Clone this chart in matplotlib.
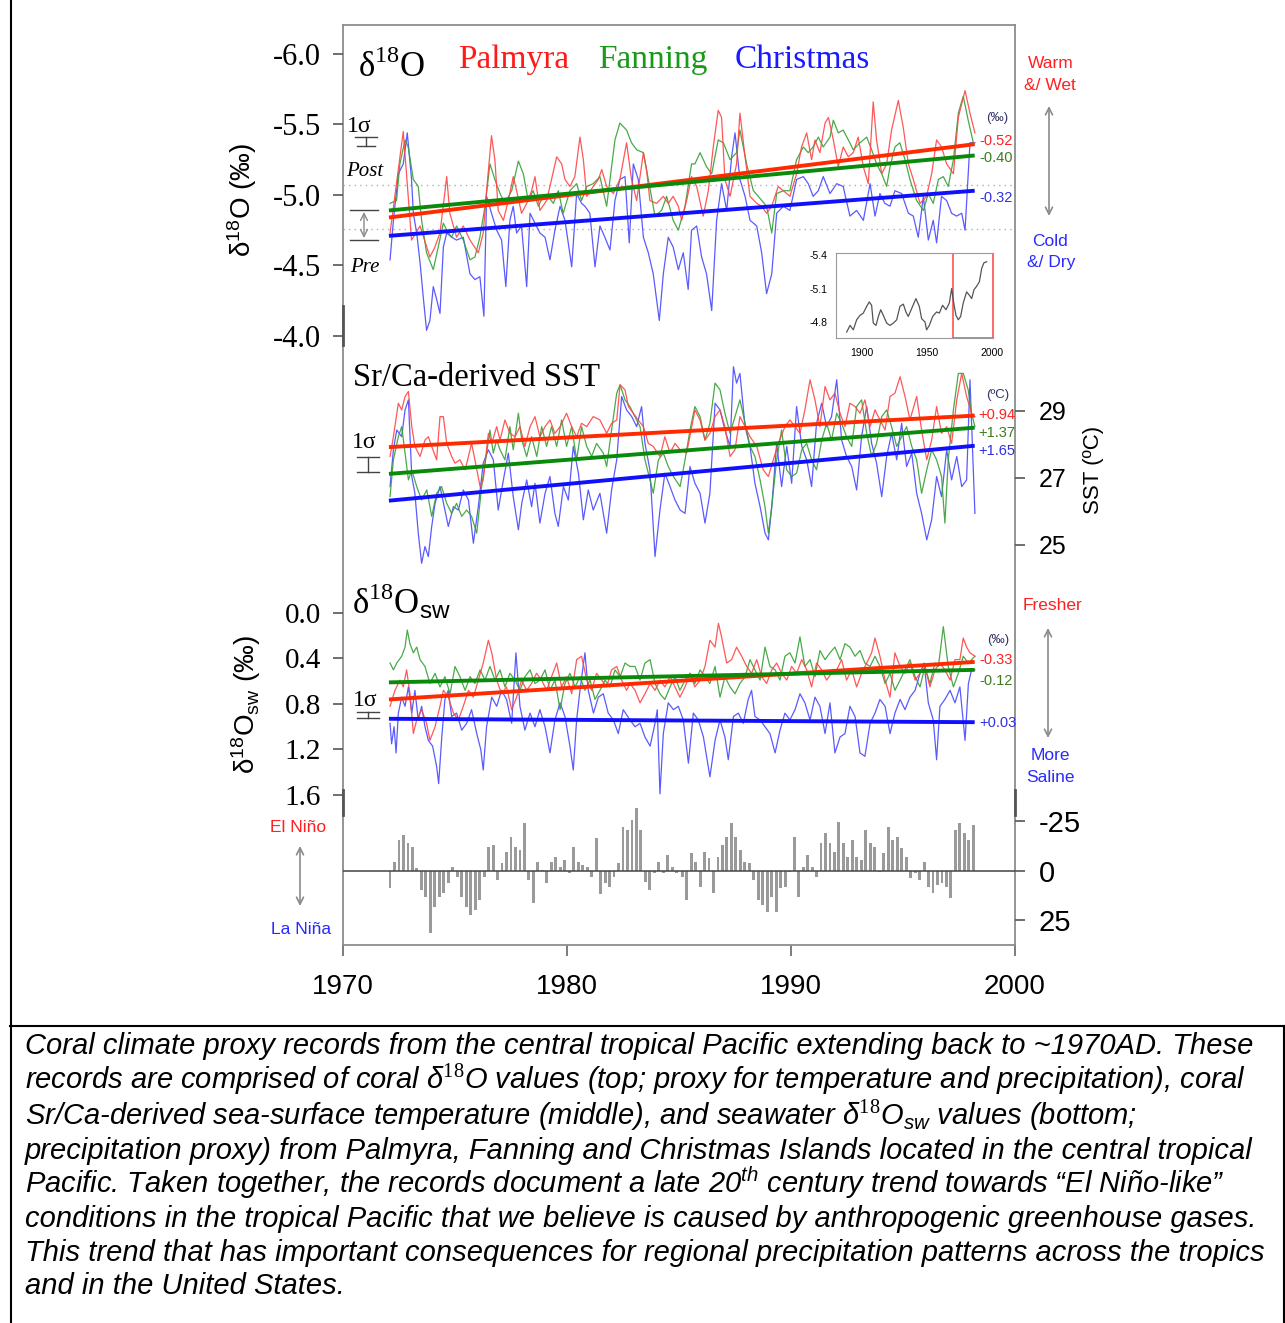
import numpy as np
import matplotlib
matplotlib.use("Agg")
import matplotlib.pyplot as plt
from matplotlib.lines import Line2D
from matplotlib.patches import FancyArrowPatch

plt.rcParams["mathtext.fontset"] = "custom"
plt.rcParams["mathtext.rm"] = "Liberation Serif"
plt.rcParams["mathtext.sf"] = "Liberation Sans"
plt.rcParams["mathtext.it"] = "Liberation Sans:italic"
plt.rcParams["axes.unicode_minus"] = False
SERIF = "Liberation Serif"
SANS = "Liberation Sans"

# ---------------- data (year, value) ----------------
# coral d18O (permil)
pal_o = [(1972.10, -4.73), (1972.69, -5.45), (1973.06, -4.68), (1973.44, -4.78), (1973.88, -4.56), (1974.10, -4.63),
         (1974.33, -4.73), (1974.63, -5.13), (1974.77, -4.87), (1975.07, -4.70), (1975.37, -4.78), (1975.67, -4.68),
         (1976.04, -4.59), (1976.26, -4.73), (1976.41, -5.03), (1976.63, -5.42), (1976.78, -5.25), (1976.93, -4.89),
         (1977.16, -4.82), (1977.38, -4.96), (1977.60, -5.13), (1977.75, -5.03), (1977.97, -4.87), (1978.20, -4.94),
         (1978.42, -5.03), (1978.57, -5.13), (1978.79, -4.89), (1979.09, -4.96), (1979.31, -5.11), (1979.54, -5.27),
         (1979.76, -5.22), (1979.91, -5.11), (1980.13, -5.06), (1980.35, -5.13), (1980.58, -5.41), (1980.73, -5.25),
         (1980.88, -4.99), (1981.17, -5.06), (1981.40, -5.11), (1981.55, -5.18), (1981.77, -5.06), (1982.07, -5.01),
         (1982.36, -5.11), (1982.66, -5.37), (1982.88, -5.11), (1983.11, -4.96), (1983.41, -5.30), (1983.55, -5.18),
         (1983.70, -4.96), (1984.00, -4.94), (1984.30, -4.99), (1984.52, -4.94), (1984.74, -4.99), (1984.97, -4.92),
         (1985.12, -4.82), (1985.34, -4.96), (1985.56, -5.13), (1985.79, -5.06), (1986.08, -4.85), (1986.31, -5.03),
         (1986.53, -5.34), (1986.75, -5.60), (1986.90, -5.55), (1987.05, -5.11), (1987.28, -4.99), (1987.57, -5.22),
         (1987.72, -5.58), (1987.95, -5.27), (1988.17, -4.99), (1988.47, -4.94), (1988.69, -4.92), (1988.91, -4.87),
         (1989.14, -4.92), (1989.43, -5.06), (1989.66, -5.03), (1989.95, -4.99), (1990.25, -5.15), (1990.47, -5.34),
         (1990.70, -5.44), (1990.92, -5.25), (1991.07, -5.39), (1991.29, -5.30), (1991.52, -5.51), (1991.67, -5.55),
         (1991.89, -5.39), (1992.11, -5.20), (1992.33, -5.34), (1992.56, -5.27), (1992.78, -5.30), (1993.00, -5.41),
         (1993.23, -5.20), (1993.45, -5.08), (1993.67, -5.66), (1993.82, -5.39), (1994.05, -5.15), (1994.27, -5.22),
         (1994.49, -5.46), (1994.79, -5.67), (1995.01, -5.48), (1995.24, -5.22), (1995.46, -5.11), (1995.76, -4.94),
         (1996.05, -4.99), (1996.28, -5.15), (1996.50, -5.39), (1996.72, -5.34), (1996.95, -5.22), (1997.25, -5.15),
         (1997.47, -5.55), (1997.77, -5.74), (1997.99, -5.58), (1998.21, -5.44)]
fan_o = [(1972.10, -4.94), (1972.39, -4.96), (1972.54, -5.22), (1972.77, -5.39), (1972.91, -5.34), (1973.14, -5.11),
         (1973.36, -5.06), (1973.51, -4.82), (1973.73, -4.59), (1974.03, -4.47), (1974.25, -4.63), (1974.48, -4.80),
         (1974.63, -4.75), (1974.85, -4.70), (1975.07, -4.78), (1975.37, -4.68), (1975.67, -4.54), (1975.89, -4.56),
         (1976.11, -4.70), (1976.34, -4.92), (1976.56, -5.22), (1976.78, -5.11), (1977.01, -5.01), (1977.23, -4.94),
         (1977.53, -5.03), (1977.83, -5.24), (1978.05, -5.15), (1978.27, -4.96), (1978.49, -5.03), (1978.72, -4.92),
         (1978.94, -4.99), (1979.16, -4.99), (1979.39, -4.94), (1979.61, -5.03), (1979.83, -4.87), (1980.13, -5.03),
         (1980.43, -5.08), (1980.65, -4.96), (1980.88, -5.06), (1981.17, -5.08), (1981.47, -5.13), (1981.77, -4.92),
         (1981.92, -5.11), (1982.14, -5.39), (1982.36, -5.51), (1982.66, -5.46), (1982.88, -5.37), (1983.11, -5.32),
         (1983.41, -5.30), (1983.63, -5.11), (1983.93, -4.85), (1984.22, -4.89), (1984.45, -4.99), (1984.74, -4.82),
         (1984.97, -4.75), (1985.27, -4.92), (1985.56, -5.22), (1985.71, -5.22), (1985.94, -5.30), (1986.23, -5.20),
         (1986.46, -5.15), (1986.75, -5.39), (1986.98, -5.37), (1987.28, -5.25), (1987.57, -5.30), (1987.72, -5.46),
         (1988.02, -5.22), (1988.32, -5.03), (1988.54, -4.99), (1988.91, -4.92), (1989.14, -4.73), (1989.36, -5.01),
         (1989.66, -5.03), (1989.95, -5.03), (1990.25, -5.25), (1990.55, -5.34), (1990.77, -5.30), (1990.99, -5.34),
         (1991.22, -5.41), (1991.44, -5.34), (1991.74, -5.41), (1991.89, -5.53), (1992.11, -5.44), (1992.33, -5.46),
         (1992.56, -5.39), (1992.78, -5.32), (1993.08, -5.37), (1993.38, -5.41), (1993.60, -5.32), (1993.82, -5.22),
         (1994.05, -5.15), (1994.27, -5.06), (1994.42, -5.20), (1994.64, -5.34), (1994.86, -5.37), (1995.09, -5.25),
         (1995.31, -5.11), (1995.61, -4.96), (1995.91, -4.89), (1996.13, -5.01), (1996.35, -4.94), (1996.58, -5.11),
         (1996.80, -5.13), (1997.02, -5.06), (1997.25, -5.25), (1997.47, -5.58), (1997.69, -5.70), (1997.91, -5.53),
         (1998.14, -5.37)]
chr_o = [(1972.10, -4.54), (1972.25, -4.82), (1972.47, -5.15), (1972.69, -5.22), (1972.87, -5.44), (1973.06, -5.11),
         (1973.14, -4.87), (1973.29, -4.73), (1973.44, -4.52), (1973.58, -4.28), (1973.73, -4.04), (1973.88, -4.11),
         (1974.03, -4.35), (1974.18, -4.26), (1974.33, -4.16), (1974.48, -4.63), (1974.63, -4.73), (1974.85, -4.70),
         (1975.07, -4.68), (1975.37, -4.70), (1975.67, -4.44), (1975.89, -4.40), (1976.11, -4.42), (1976.29, -4.14),
         (1976.41, -4.99), (1976.63, -4.87), (1976.86, -4.75), (1977.08, -4.68), (1977.27, -4.35), (1977.45, -4.82),
         (1977.60, -4.92), (1977.75, -4.73), (1977.97, -4.78), (1978.20, -4.35), (1978.35, -4.87), (1978.57, -4.80),
         (1978.79, -4.73), (1979.02, -4.70), (1979.24, -4.54), (1979.46, -4.75), (1979.69, -4.92), (1979.91, -4.82),
         (1980.21, -4.49), (1980.43, -5.01), (1980.65, -4.94), (1980.80, -4.92), (1981.02, -4.87), (1981.25, -4.49),
         (1981.47, -4.78), (1981.69, -4.70), (1981.92, -4.61), (1982.14, -4.96), (1982.36, -5.11), (1982.59, -5.13),
         (1982.78, -4.66), (1982.96, -5.22), (1983.18, -5.11), (1983.41, -4.70), (1983.63, -4.59), (1983.85, -4.44),
         (1984.12, -4.11), (1984.30, -4.44), (1984.52, -4.70), (1984.74, -4.63), (1984.97, -4.47), (1985.19, -4.59),
         (1985.41, -4.33), (1985.56, -4.75), (1985.79, -4.78), (1986.01, -4.56), (1986.23, -4.44), (1986.46, -4.18),
         (1986.68, -4.82), (1986.90, -5.08), (1987.13, -4.89), (1987.35, -5.27), (1987.50, -5.44), (1987.72, -5.11),
         (1987.95, -4.99), (1988.17, -4.82), (1988.47, -4.78), (1988.69, -4.59), (1988.91, -4.30), (1989.14, -4.44),
         (1989.36, -4.87), (1989.66, -4.92), (1989.95, -4.89), (1990.25, -5.11), (1990.55, -5.13), (1990.77, -5.08),
         (1990.99, -4.99), (1991.22, -5.03), (1991.44, -5.13), (1991.74, -5.01), (1992.04, -5.08), (1992.33, -5.06),
         (1992.63, -4.85), (1992.93, -4.89), (1993.23, -4.82), (1993.53, -5.08), (1993.75, -4.85), (1993.97, -5.01),
         (1994.19, -4.94), (1994.42, -4.92), (1994.64, -5.03), (1994.94, -5.01), (1995.24, -4.87), (1995.46, -4.85),
         (1995.68, -4.70), (1995.91, -4.99), (1996.13, -4.68), (1996.35, -4.82), (1996.50, -4.66), (1996.72, -4.99),
         (1996.95, -4.96), (1997.17, -4.87), (1997.39, -4.85), (1997.62, -4.87), (1997.77, -4.75), (1997.99, -5.37),
         (1998.21, -5.37)]

# Sr/Ca-derived SST (deg C)
pal_sst = [(1972.10, 27.64), (1972.25, 28.23), (1972.47, 29.23), (1972.62, 29.03), (1972.77, 29.43), (1972.92, 29.58),
           (1973.07, 28.53), (1973.21, 27.94), (1973.44, 27.64), (1973.66, 28.13), (1973.81, 28.23), (1973.96, 27.94),
           (1974.18, 27.54), (1974.33, 28.83), (1974.48, 28.83), (1974.63, 28.03), (1974.85, 27.64), (1975.00, 27.44),
           (1975.22, 27.54), (1975.45, 27.24), (1975.60, 27.64), (1975.74, 28.03), (1975.89, 27.54), (1976.12, 26.74),
           (1976.26, 26.94), (1976.49, 28.33), (1976.64, 28.03), (1976.86, 28.53), (1977.01, 28.13), (1977.23, 28.73),
           (1977.45, 28.33), (1977.68, 28.23), (1977.90, 28.53), (1978.12, 27.94), (1978.35, 28.53), (1978.57, 28.83),
           (1978.79, 28.23), (1979.02, 28.53), (1979.24, 28.73), (1979.46, 28.33), (1979.69, 28.53), (1979.98, 28.93),
           (1980.21, 28.53), (1980.43, 28.23), (1980.65, 28.63), (1980.88, 28.53), (1981.17, 28.83), (1981.47, 28.73),
           (1981.77, 28.33), (1981.99, 28.63), (1982.22, 28.73), (1982.37, 29.78), (1982.59, 29.63), (1982.74, 29.13),
           (1982.96, 28.93), (1983.18, 28.73), (1983.41, 28.53), (1983.63, 28.03), (1983.85, 27.94), (1984.15, 27.64),
           (1984.37, 28.23), (1984.60, 27.74), (1984.82, 28.03), (1985.05, 27.84), (1985.34, 27.74), (1985.57, 28.53),
           (1985.71, 29.03), (1985.94, 28.73), (1986.16, 28.13), (1986.38, 28.33), (1986.61, 28.83), (1986.83, 29.03),
           (1987.05, 28.53), (1987.28, 27.64), (1987.50, 27.84), (1987.72, 28.83), (1987.95, 28.53), (1988.17, 28.23),
           (1988.47, 27.94), (1988.76, 27.24), (1988.99, 27.04), (1989.21, 27.54), (1989.43, 28.03), (1989.73, 28.53),
           (1989.95, 28.73), (1990.18, 28.53), (1990.40, 28.33), (1990.62, 29.03), (1990.85, 29.93), (1991.07, 29.33),
           (1991.29, 28.53), (1991.52, 29.73), (1991.74, 29.33), (1991.96, 29.53), (1992.19, 28.93), (1992.41, 28.53),
           (1992.63, 29.23), (1992.86, 29.13), (1993.08, 28.93), (1993.30, 29.33), (1993.53, 28.53), (1993.75, 29.03),
           (1993.97, 28.73), (1994.20, 28.43), (1994.42, 29.43), (1994.64, 29.53), (1994.87, 30.02), (1995.09, 29.43),
           (1995.31, 28.73), (1995.61, 29.43), (1995.83, 28.43), (1996.06, 27.54), (1996.28, 28.13), (1996.50, 29.13),
           (1996.72, 28.33), (1996.95, 28.53), (1997.17, 28.03), (1997.40, 29.33), (1997.62, 30.12), (1997.84, 29.43),
           (1998.06, 28.93), (1998.21, 28.83)]
fan_sst = [(1972.10, 26.44), (1972.25, 27.54), (1972.47, 28.23), (1972.62, 28.53), (1972.77, 27.74), (1972.92, 26.94),
           (1973.07, 27.24), (1973.29, 26.74), (1973.51, 26.34), (1973.74, 26.64), (1973.96, 25.85), (1974.18, 26.54),
           (1974.40, 26.74), (1974.63, 26.24), (1974.85, 25.94), (1975.07, 26.24), (1975.30, 25.85), (1975.52, 26.04),
           (1975.74, 25.85), (1975.97, 25.35), (1976.19, 26.74), (1976.41, 27.74), (1976.56, 28.43), (1976.71, 27.74),
           (1976.86, 28.13), (1977.01, 27.84), (1977.23, 27.54), (1977.45, 28.53), (1977.60, 27.84), (1977.83, 28.93),
           (1977.98, 28.13), (1978.20, 27.64), (1978.42, 28.23), (1978.65, 27.64), (1978.87, 28.53), (1979.09, 27.94),
           (1979.31, 28.53), (1979.54, 27.94), (1979.76, 28.73), (1979.98, 27.94), (1980.21, 28.53), (1980.43, 27.54),
           (1980.65, 28.53), (1980.88, 27.94), (1981.10, 27.64), (1981.32, 28.03), (1981.62, 27.74), (1981.77, 27.34),
           (1981.99, 28.43), (1982.22, 29.53), (1982.37, 29.78), (1982.59, 29.33), (1982.81, 29.13), (1983.03, 28.83),
           (1983.26, 28.53), (1983.48, 27.54), (1983.63, 27.14), (1983.85, 26.54), (1984.08, 27.54), (1984.30, 27.74),
           (1984.52, 27.34), (1984.75, 27.04), (1985.05, 26.74), (1985.27, 27.54), (1985.49, 28.43), (1985.71, 29.13),
           (1985.94, 28.83), (1986.16, 28.13), (1986.38, 28.63), (1986.61, 29.83), (1986.83, 29.63), (1987.05, 28.93),
           (1987.28, 28.33), (1987.50, 28.83), (1987.72, 29.33), (1987.95, 28.63), (1988.17, 27.94), (1988.39, 27.64),
           (1988.62, 26.94), (1988.84, 26.14), (1988.99, 25.35), (1989.14, 26.14), (1989.36, 27.54), (1989.58, 28.43),
           (1989.81, 27.24), (1990.03, 27.04), (1990.25, 27.14), (1990.48, 27.84), (1990.70, 28.03), (1990.92, 27.54),
           (1991.14, 27.24), (1991.37, 28.13), (1991.59, 28.63), (1991.81, 28.13), (1992.04, 28.93), (1992.26, 28.63),
           (1992.48, 28.23), (1992.71, 27.94), (1992.93, 29.13), (1993.15, 29.33), (1993.38, 28.33), (1993.60, 27.64),
           (1993.82, 28.03), (1994.05, 28.83), (1994.27, 29.03), (1994.49, 28.53), (1994.72, 27.94), (1994.94, 28.23),
           (1995.16, 28.53), (1995.39, 27.94), (1995.61, 27.54), (1995.83, 26.54), (1996.06, 27.24), (1996.28, 27.84),
           (1996.50, 27.54), (1996.72, 27.04), (1996.87, 25.65), (1997.02, 27.54), (1997.25, 29.03), (1997.47, 30.12),
           (1997.69, 30.12), (1997.91, 29.63), (1998.06, 28.93), (1998.21, 28.53)]
chr_sst = [(1972.10, 26.74), (1972.25, 27.84), (1972.40, 28.43), (1972.62, 28.23), (1972.77, 29.03), (1972.92, 29.33),
           (1973.07, 27.04), (1973.21, 26.54), (1973.36, 25.35), (1973.51, 24.45), (1973.66, 24.95), (1973.81, 24.65),
           (1973.96, 25.55), (1974.11, 26.24), (1974.33, 26.74), (1974.55, 26.04), (1974.70, 25.55), (1974.93, 26.14),
           (1975.15, 26.04), (1975.37, 26.64), (1975.60, 26.34), (1975.82, 25.05), (1976.04, 26.14), (1976.26, 27.44),
           (1976.49, 27.84), (1976.71, 27.54), (1976.93, 26.04), (1977.16, 26.94), (1977.38, 27.74), (1977.60, 26.44),
           (1977.83, 25.45), (1977.98, 26.24), (1978.20, 26.94), (1978.42, 26.14), (1978.57, 26.84), (1978.79, 25.65),
           (1979.02, 26.54), (1979.24, 27.04), (1979.46, 25.94), (1979.61, 25.55), (1979.84, 26.74), (1980.06, 26.34),
           (1980.28, 27.94), (1980.51, 27.14), (1980.73, 25.75), (1980.95, 26.64), (1981.17, 26.04), (1981.47, 26.54),
           (1981.77, 25.35), (1981.99, 26.64), (1982.22, 27.54), (1982.44, 29.43), (1982.66, 29.03), (1982.89, 28.83),
           (1983.11, 28.53), (1983.33, 29.13), (1983.48, 28.03), (1983.70, 27.24), (1983.93, 24.65), (1984.15, 26.04),
           (1984.37, 27.14), (1984.60, 26.74), (1984.82, 26.34), (1985.05, 26.04), (1985.27, 25.94), (1985.49, 27.34),
           (1985.71, 26.84), (1985.94, 26.54), (1986.16, 25.65), (1986.38, 26.54), (1986.61, 29.23), (1986.83, 29.03),
           (1987.05, 28.43), (1987.28, 27.94), (1987.43, 30.32), (1987.57, 29.83), (1987.72, 30.12), (1987.95, 28.53),
           (1988.17, 27.94), (1988.39, 26.84), (1988.62, 26.14), (1988.84, 25.35), (1988.99, 25.15), (1989.14, 26.14),
           (1989.36, 28.03), (1989.58, 26.74), (1989.81, 27.94), (1990.03, 26.84), (1990.25, 29.13), (1990.48, 27.94),
           (1990.70, 27.54), (1990.92, 26.74), (1991.14, 28.63), (1991.37, 29.23), (1991.59, 28.53), (1991.81, 28.83),
           (1992.04, 29.93), (1992.26, 28.13), (1992.48, 27.64), (1992.71, 27.34), (1992.93, 26.64), (1993.15, 28.23),
           (1993.38, 29.13), (1993.60, 28.03), (1993.82, 27.44), (1994.05, 26.44), (1994.27, 27.64), (1994.49, 28.33),
           (1994.72, 27.54), (1994.94, 28.63), (1995.16, 27.34), (1995.39, 27.74), (1995.61, 26.54), (1995.83, 25.94),
           (1996.06, 25.15), (1996.28, 25.75), (1996.50, 27.04), (1996.72, 26.44), (1996.95, 27.84), (1997.17, 26.94),
           (1997.40, 27.64), (1997.62, 26.74), (1997.84, 26.94), (1997.99, 29.93), (1998.21, 25.94)]

# seawater d18O (permil)
pal_sw = [(1972.10, 0.82), (1972.32, 0.68), (1972.54, 0.59), (1972.69, 0.65), (1972.84, 0.50), (1972.99, 0.71),
          (1973.14, 1.06), (1973.29, 0.94), (1973.51, 0.85), (1973.73, 0.97), (1973.88, 1.12), (1974.11, 1.00),
          (1974.33, 0.82), (1974.48, 0.68), (1974.70, 0.74), (1974.93, 0.88), (1975.15, 0.94), (1975.37, 0.82),
          (1975.60, 0.68), (1975.82, 0.74), (1976.04, 0.59), (1976.26, 0.44), (1976.49, 0.24), (1976.64, 0.35),
          (1976.86, 0.59), (1977.08, 0.71), (1977.30, 0.65), (1977.53, 0.85), (1977.75, 0.74), (1977.97, 0.59),
          (1978.20, 0.68), (1978.42, 0.62), (1978.64, 0.53), (1978.87, 0.59), (1979.09, 0.68), (1979.31, 0.56),
          (1979.54, 0.44), (1979.76, 0.65), (1979.98, 0.56), (1980.21, 0.71), (1980.43, 0.41), (1980.65, 0.38),
          (1980.88, 0.59), (1981.10, 0.68), (1981.32, 0.53), (1981.55, 0.59), (1981.77, 0.65), (1981.99, 0.50),
          (1982.22, 0.47), (1982.44, 0.59), (1982.66, 0.68), (1982.81, 0.62), (1983.04, 0.68), (1983.26, 0.79),
          (1983.48, 0.71), (1983.71, 0.62), (1983.93, 0.68), (1984.15, 0.59), (1984.37, 0.65), (1984.60, 0.56),
          (1984.82, 0.65), (1985.04, 0.74), (1985.27, 0.65), (1985.49, 0.53), (1985.71, 0.65), (1985.94, 0.59),
          (1986.16, 0.47), (1986.38, 0.24), (1986.61, 0.30), (1986.76, 0.09), (1986.90, 0.21), (1987.13, 0.44),
          (1987.35, 0.41), (1987.57, 0.30), (1987.80, 0.38), (1988.02, 0.47), (1988.24, 0.53), (1988.47, 0.41),
          (1988.69, 0.56), (1988.91, 0.62), (1989.14, 0.50), (1989.36, 0.44), (1989.58, 0.53), (1989.81, 0.59),
          (1990.03, 0.47), (1990.25, 0.53), (1990.48, 0.41), (1990.70, 0.50), (1990.92, 0.65), (1991.14, 0.44),
          (1991.37, 0.50), (1991.59, 0.59), (1991.81, 0.53), (1992.04, 0.50), (1992.26, 0.41), (1992.48, 0.59),
          (1992.71, 0.50), (1992.93, 0.65), (1993.15, 0.53), (1993.38, 0.44), (1993.60, 0.35), (1993.75, 0.22),
          (1993.97, 0.38), (1994.20, 0.59), (1994.42, 0.74), (1994.64, 0.35), (1994.87, 0.47), (1995.09, 0.53),
          (1995.31, 0.44), (1995.54, 0.59), (1995.76, 0.53), (1995.98, 0.47), (1996.20, 0.65), (1996.43, 0.50),
          (1996.65, 0.44), (1996.87, 0.50), (1997.10, 0.59), (1997.32, 0.41), (1997.54, 0.41), (1997.69, 0.22),
          (1997.84, 0.30), (1997.99, 0.35), (1998.21, 0.38)]
fan_sw = [(1972.10, 0.44), (1972.25, 0.50), (1972.40, 0.44), (1972.62, 0.38), (1972.77, 0.30), (1972.87, 0.15),
          (1972.99, 0.27), (1973.14, 0.35), (1973.29, 0.30), (1973.44, 0.41), (1973.66, 0.47), (1973.88, 0.62),
          (1974.11, 0.53), (1974.33, 0.65), (1974.55, 0.56), (1974.78, 0.71), (1975.00, 0.47), (1975.22, 0.56),
          (1975.45, 0.68), (1975.67, 0.56), (1975.89, 0.62), (1976.12, 0.50), (1976.34, 0.59), (1976.56, 0.47),
          (1976.79, 0.59), (1977.01, 0.50), (1977.23, 0.65), (1977.45, 0.53), (1977.68, 0.59), (1977.90, 0.68),
          (1978.12, 0.56), (1978.35, 0.50), (1978.57, 0.62), (1978.79, 0.59), (1979.02, 0.50), (1979.24, 0.68),
          (1979.46, 0.59), (1979.69, 0.85), (1979.91, 0.62), (1980.13, 0.53), (1980.36, 0.65), (1980.58, 0.56),
          (1980.80, 0.68), (1981.03, 0.59), (1981.25, 0.76), (1981.47, 0.68), (1981.70, 0.59), (1981.92, 0.65),
          (1982.14, 0.50), (1982.37, 0.56), (1982.59, 0.44), (1982.81, 0.47), (1983.04, 0.47), (1983.26, 0.59),
          (1983.48, 0.44), (1983.71, 0.41), (1983.93, 0.62), (1984.15, 0.71), (1984.37, 0.76), (1984.60, 0.65),
          (1984.82, 0.56), (1985.04, 0.68), (1985.27, 0.59), (1985.49, 0.53), (1985.71, 0.62), (1985.94, 0.50),
          (1986.16, 0.56), (1986.38, 0.62), (1986.61, 0.47), (1986.83, 0.74), (1987.05, 0.56), (1987.28, 0.65),
          (1987.50, 0.71), (1987.72, 0.62), (1987.95, 0.56), (1988.17, 0.41), (1988.39, 0.50), (1988.62, 0.59),
          (1988.84, 0.30), (1989.06, 0.47), (1989.29, 0.50), (1989.51, 0.59), (1989.73, 0.38), (1989.95, 0.35),
          (1990.18, 0.44), (1990.40, 0.21), (1990.62, 0.47), (1990.85, 0.41), (1991.07, 0.56), (1991.29, 0.33),
          (1991.52, 0.41), (1991.74, 0.35), (1991.96, 0.30), (1992.19, 0.41), (1992.41, 0.27), (1992.63, 0.30),
          (1992.86, 0.38), (1993.08, 0.33), (1993.30, 0.44), (1993.53, 0.47), (1993.75, 0.38), (1993.97, 0.47),
          (1994.20, 0.62), (1994.42, 0.53), (1994.64, 0.68), (1994.87, 0.59), (1995.09, 0.50), (1995.31, 0.41),
          (1995.54, 0.56), (1995.76, 0.65), (1995.98, 0.47), (1996.20, 0.62), (1996.43, 0.44), (1996.58, 0.47),
          (1996.80, 0.12), (1997.02, 0.47), (1997.25, 0.65), (1997.47, 0.53), (1997.69, 0.38), (1997.92, 0.44),
          (1998.21, 0.38)]
chr_sw = [(1972.10, 0.97), (1972.17, 1.15), (1972.28, 1.00), (1972.37, 1.23), (1972.47, 0.88), (1972.62, 0.74),
          (1972.77, 0.82), (1972.92, 0.65), (1973.07, 0.88), (1973.21, 0.68), (1973.36, 0.94), (1973.51, 0.82),
          (1973.66, 1.00), (1973.81, 1.12), (1974.00, 1.17), (1974.18, 1.35), (1974.27, 1.50), (1974.41, 1.09),
          (1974.55, 0.76), (1974.70, 0.68), (1974.85, 0.91), (1975.07, 0.88), (1975.30, 1.03), (1975.52, 0.97),
          (1975.74, 0.85), (1975.97, 1.06), (1976.15, 1.20), (1976.26, 1.38), (1976.41, 1.00), (1976.64, 0.74),
          (1976.86, 0.82), (1977.08, 0.68), (1977.30, 0.76), (1977.53, 0.97), (1977.72, 0.35), (1977.90, 0.82),
          (1978.12, 1.03), (1978.35, 0.88), (1978.57, 1.00), (1978.79, 0.85), (1979.02, 1.00), (1979.24, 1.23),
          (1979.46, 0.94), (1979.69, 0.79), (1979.91, 0.91), (1980.13, 1.17), (1980.28, 1.38), (1980.43, 0.94),
          (1980.58, 0.68), (1980.80, 0.35), (1980.95, 0.68), (1981.18, 0.88), (1981.40, 0.74), (1981.62, 0.71),
          (1981.84, 0.88), (1982.07, 0.94), (1982.29, 1.06), (1982.51, 0.85), (1982.81, 0.94), (1983.04, 1.00),
          (1983.26, 0.97), (1983.48, 1.09), (1983.71, 1.17), (1983.93, 0.97), (1984.03, 0.85), (1984.15, 1.59),
          (1984.30, 1.06), (1984.52, 0.79), (1984.75, 0.85), (1984.97, 0.82), (1985.19, 0.94), (1985.42, 1.32),
          (1985.64, 0.88), (1985.86, 0.94), (1986.09, 1.09), (1986.38, 1.44), (1986.61, 1.12), (1986.83, 0.94),
          (1987.05, 1.09), (1987.20, 1.29), (1987.43, 0.91), (1987.65, 0.88), (1987.87, 0.97), (1988.09, 0.76),
          (1988.24, 0.68), (1988.39, 0.91), (1988.62, 0.94), (1988.84, 1.00), (1989.06, 1.06), (1989.29, 1.23),
          (1989.51, 1.03), (1989.73, 0.88), (1989.95, 0.94), (1990.18, 0.85), (1990.40, 0.71), (1990.62, 0.79),
          (1990.85, 0.94), (1991.07, 0.74), (1991.29, 0.82), (1991.52, 1.06), (1991.74, 0.79), (1991.96, 1.23),
          (1992.19, 1.09), (1992.41, 1.06), (1992.63, 0.82), (1992.86, 0.91), (1993.08, 1.23), (1993.30, 1.26),
          (1993.53, 0.97), (1993.75, 0.88), (1993.97, 0.76), (1994.20, 0.82), (1994.42, 1.06), (1994.64, 0.88),
          (1994.87, 0.76), (1995.09, 0.85), (1995.31, 0.74), (1995.54, 0.68), (1995.76, 0.53), (1995.94, 0.44),
          (1996.13, 0.79), (1996.35, 0.94), (1996.50, 1.29), (1996.65, 0.82), (1996.87, 0.76), (1997.10, 0.68),
          (1997.32, 0.79), (1997.54, 0.65), (1997.77, 1.12), (1997.92, 0.62), (1998.06, 0.50), (1998.21, 0.50)]

# linear trends (start, end) over the record
trend_years = [1972.05, 1998.2]
pal_o_trend, fan_o_trend, chr_o_trend = [-4.84, -5.36], [-4.89, -5.28], [-4.71, -5.03]
pal_sst_trend, fan_sst_trend, chr_sst_trend = [27.92, 28.86], [27.12, 28.50], [26.32, 27.96]
pal_sw_trend, fan_sw_trend, chr_sw_trend = [0.76, 0.43], [0.61, 0.50], [0.93, 0.96]
o_changes = ["-0.52", "-0.40", "-0.32"]
sst_changes = ["+0.94", "+1.37", "+1.65"]
sw_changes = ["-0.33", "-0.12", "+0.03"]
post_level, pre_level = -5.07, -4.76

# SOI (monthly, shown every ~0.2 yr)
soi_years = np.round(np.concatenate([1972.1 + 0.2 * np.arange(65), 1985.14 + 0.2 * np.arange(66)]), 2)
soi = [8.8, -4.7, -15.7, -18.2, -14.0, -12.3, -1.3, 9.6, 13.0, 31.5, 18.0, 13.0, 11.3, 6.2, -2.2, 2.9, 13.0,
       18.0, 22.2, 19.7, 14.7, 2.9, -12.3, -13.1, 4.5, -3.9, -9.8, -17.4, -12.3, -10.6, -24.1, 4.5, 16.3, -4.7,
       -0.5, 6.2, -4.7, -7.2, -2.2, -5.6, 1.2, -12.3, -4.7, -3.0, -2.2, 2.9, -16.5, 11.5, 6.2, 7.9, 2.9, -3.9,
       -22.4, -20.7, -25.7, -31.6, -20.7, 5.4, 9.6, 1.2, -4.7, 1.2, -8.1, -2.2, 1.2,
       2.9, 14.7, -8.9, -4.7, 7.9, -9.8, -6.4, 11.3, -7.2, -13.1, -17.4, -24.1, -17.4, -10.6, -4.7, -3.9, 4.5,
       14.7, 17.2, 20.6, 13.0, 20.6, 8.8, 7.9, 0.3, -17.4, 13.0, -2.2, -8.1, -2.2, 2.9, -14.0, -19.0, -14.0,
       -9.8, -24.9, -14.0, -7.2, -15.7, -7.2, -5.6, -20.7, -14.0, -12.3, 0.3, -8.9, -22.4, -15.7, -17.4, -11.4,
       -7.2, 3.7, 1.2, 4.5, -4.7, 7.9, 11.3, 7.1, 6.2, 7.9, 13.8, -20.7, -24.1, -19.0, -15.7, -23.2]

# inset: long Palmyra-type record
inset = [(1888.2, -4.71), (1890.8, -4.77), (1893.3, -4.73), (1895.9, -4.82), (1898.5, -4.86), (1901.0, -4.88),
         (1903.6, -4.94), (1905.6, -4.98), (1907.4, -4.95), (1908.7, -4.79), (1910.8, -4.77), (1912.6, -4.85),
         (1914.4, -4.91), (1916.4, -4.86), (1919.0, -4.79), (1921.5, -4.77), (1924.1, -4.79), (1926.7, -4.82),
         (1929.2, -4.94), (1931.8, -4.96), (1933.8, -4.89), (1935.6, -4.85), (1938.2, -4.92), (1941.5, -5.01),
         (1944.1, -4.94), (1945.9, -4.83), (1948.5, -4.80), (1949.7, -4.73), (1951.8, -4.77), (1954.4, -4.85),
         (1957.4, -4.89), (1959.5, -4.88), (1962.0, -4.95), (1964.6, -4.91), (1967.2, -4.97), (1969.0, -5.10),
         (1970.3, -4.99), (1972.3, -4.86), (1974.1, -4.82), (1975.9, -4.85), (1977.9, -4.97), (1980.5, -5.07),
         (1982.6, -5.04), (1984.4, -5.01), (1986.2, -5.09), (1988.2, -5.12), (1990.3, -5.16), (1992.1, -5.28),
         (1993.8, -5.33), (1995.9, -5.34)]

decades = [1970, 1980, 1990, 2000]
o_ticks = [-6.0, -5.5, -5.0, -4.5, -4.0]
sst_ticks = [25, 27, 29]
sw_ticks = [0.0, 0.4, 0.8, 1.2, 1.6]
soi_ticks = [-25, 0, 25]

thin_cols = {"pal": "#ff4545", "fan": "#35a035", "chr": "#4848ff"}
trend_cols = {"pal": "#ff2a00", "fan": "#0a8a0a", "chr": "#1010ff"}
label_cols = {"pal": "#ff2020", "fan": "#3f7a22", "chr": "#3030e0"}

# ---------------- figure ----------------
W, H = 1285, 1323
fig = plt.figure(figsize=(W / 100, H / 100), dpi=100)


def rect(top, bot, left=343, right=1015):
    return [left / W, 1 - bot / H, (right - left) / W, (bot - top) / H]


def ftext(x, y, s, **kw):
    fig.text(x / W, 1 - y / H, s, **kw)


def fline(xs, ys, **kw):
    fig.add_artist(Line2D([x / W for x in xs], [1 - y / H for y in ys], transform=fig.transFigure, **kw))


def farrow(x, y0, y1, lw=1.2):
    fig.add_artist(FancyArrowPatch((x / W, 1 - y0 / H), (x / W, 1 - y1 / H), transform=fig.transFigure,
                                   arrowstyle="<->,head_length=5,head_width=2.5", color="#8a8a8a", lw=lw,
                                   shrinkA=0, shrinkB=0))


frame = fig.add_axes(rect(25, 945))
frame.set_xlim(1970, 2000)
frame.set_ylim(0, 1)
frame.set_yticks([])
frame.set_xticks(decades)
frame.set_xticklabels([str(d) for d in decades], fontfamily=SANS, fontsize=20)
frame.tick_params(axis="x", length=8, width=1.2, color="#666666", pad=13)
for s in frame.spines.values():
    s.set_color("#8c8c8c")
    s.set_linewidth(1.3)


def panel(top, bot, ylim):
    ax = fig.add_axes(rect(top, bot), facecolor="none")
    ax.set_xlim(1970, 2000)
    ax.set_ylim(*ylim)
    ax.set_xticks([])
    for s in ax.spines.values():
        s.set_visible(False)
    return ax


def draw(ax, series, trends):
    for key in ["chr", "fan", "pal"]:
        arr = np.array(series[key])
        ax.plot(arr[:, 0], arr[:, 1], color=thin_cols[key], lw=0.9, alpha=0.9)
    for key in ["pal", "fan", "chr"]:
        ax.plot(trend_years, trends[key], color=trend_cols[key], lw=2.8, solid_capstyle="butt")


# panel 1: coral d18O
ax1 = panel(25, 345, (-3.936, -6.205))
ax1.axhline(post_level, color="#b0b0b0", lw=1, ls=(0, (1, 3)))
ax1.axhline(pre_level, color="#b0b0b0", lw=1, ls=(0, (1, 3)))
draw(ax1, {"pal": pal_o, "fan": fan_o, "chr": chr_o},
     {"pal": pal_o_trend, "fan": fan_o_trend, "chr": chr_o_trend})
ax1.set_yticks(o_ticks)
ax1.set_yticklabels(["%.1f" % t for t in o_ticks], fontfamily=SERIF, fontsize=22)
ax1.tick_params(axis="y", length=7, width=1.2, color="#555555", pad=9)

# panel 2: SST
ax2 = panel(355, 575, (24.10, 30.67))
draw(ax2, {"pal": pal_sst, "fan": fan_sst, "chr": chr_sst},
     {"pal": pal_sst_trend, "fan": fan_sst_trend, "chr": chr_sst_trend})
ax2.yaxis.tick_right()
ax2.set_yticks(sst_ticks)
ax2.set_yticklabels([str(t) for t in sst_ticks], fontfamily=SANS, fontsize=18)
ax2.tick_params(axis="y", length=7, width=1.2, color="#555555", pad=10)

# panel 3: seawater d18O
ax3 = panel(575, 805, (1.688, -0.334))
draw(ax3, {"pal": pal_sw, "fan": fan_sw, "chr": chr_sw},
     {"pal": pal_sw_trend, "fan": fan_sw_trend, "chr": chr_sw_trend})
ax3.set_yticks(sw_ticks)
ax3.set_yticklabels(["%.1f" % t for t in sw_ticks], fontfamily=SERIF, fontsize=21)
ax3.tick_params(axis="y", length=7, width=1.2, color="#555555", pad=9)

# panel 4: SOI
ax4 = panel(790, 945, (37.4, -40.9))
ax4.bar(soi_years, soi, width=0.13, color="#9a9a9a", linewidth=0)
ax4.axhline(0, color="#444444", lw=1.1)
ax4.yaxis.tick_right()
ax4.set_yticks(soi_ticks)
ax4.set_yticklabels([str(t) for t in soi_ticks], fontfamily=SANS, fontsize=21)
ax4.tick_params(axis="y", length=7, width=1.2, color="#555555", pad=10)

# darker axis stubs
fline([343, 343], [306, 345], color="#555555", lw=2)
fline([343, 343], [790, 815], color="#555555", lw=2)
fline([1015, 1015], [790, 815], color="#555555", lw=2)

# inset
axi = fig.add_axes(rect(253, 338, 836, 993))
arr = np.array(inset)
axi.plot(arr[:, 0], arr[:, 1], color="#555555", lw=0.9)
axi.set_xlim(1880, 2000.8)
axi.set_ylim(-4.657, -5.418)
axi.axvspan(1970, 2000.8, fill=False, edgecolor="#ff5050", lw=1.2)
axi.set_xticks([1900, 1950, 2000])
axi.set_xticklabels(["1900", "1950", "2000"], fontfamily=SANS, fontsize=7.5)
axi.set_yticks([-5.4, -5.1, -4.8])
axi.set_yticklabels(["-5.4", "-5.1", "-4.8"], fontfamily=SANS, fontsize=7.5)
axi.tick_params(length=0, pad=7)
axi.tick_params(axis="y", pad=6)
for s in axi.spines.values():
    s.set_color("#9a9a9a")

# titles
ftext(358, 77, r"δ$^{\mathrm{18}}$O", fontfamily=SERIF, fontsize=25, va="baseline")
ftext(458, 68, "Palmyra", fontfamily=SERIF, fontsize=24, color="#ff1a1a", va="baseline")
ftext(598, 68, "Fanning", fontfamily=SERIF, fontsize=24, color="#1a9a1a", va="baseline")
ftext(735, 68, "Christmas", fontfamily=SERIF, fontsize=24, color="#1a1aff", va="baseline")
ftext(353, 386, "Sr/Ca-derived SST", fontfamily=SERIF, fontsize=23.5, va="baseline")
ftext(352, 613, r"δ$^{\mathrm{18}}$O$_{\mathsf{sw}}$", fontfamily=SERIF, fontsize=25, va="baseline")

# axis labels
ftext(242, 200, r"δ$^{\mathsf{18}}$O (‰)", fontfamily=SANS, fontsize=20, rotation=90, ha="center", va="center")
ftext(246, 705, r"δ$^{\mathsf{18}}$O$_{\mathsf{sw}}$ (‰)", fontfamily=SANS, fontsize=20, rotation=90,
      ha="center", va="center")
ftext(1093, 470, "SST (ºC)", fontfamily=SANS, fontsize=16, rotation=90, ha="center", va="center")

# 1 sigma bars and pre/post bracket
gray = "#444444"
ftext(347, 127, "1σ", fontfamily=SERIF, fontsize=17, va="center")
fline([355, 377], [137, 137], color=gray, lw=1)
fline([357, 375], [146, 146], color=gray, lw=1)
fline([366, 366], [137, 146], color=gray, lw=1)
ftext(346, 171, "Post", fontfamily=SERIF, fontsize=15, fontstyle="italic", va="center")
fline([350, 378], [210, 210], color=gray, lw=1)
fline([350, 378], [240, 240], color=gray, lw=1)
farrow(364, 212, 238, lw=1)
ftext(350, 267, "Pre", fontfamily=SERIF, fontsize=15, fontstyle="italic", va="center")

ftext(352, 442, "1σ", fontfamily=SERIF, fontsize=17, va="center")
fline([357, 379], [457, 457], color=gray, lw=1)
fline([357, 379], [472, 472], color=gray, lw=1)
fline([368, 368], [457, 472], color=gray, lw=1)

ftext(353, 701, "1σ", fontfamily=SERIF, fontsize=17, va="center")
fline([357, 379], [712, 712], color=gray, lw=1)
fline([357, 379], [718, 718], color=gray, lw=1)
fline([368, 368], [712, 718], color=gray, lw=1)

# trend magnitudes
ftext(997, 118, "(‰)", fontfamily=SANS, fontsize=9.5, color="#333366", ha="center", va="center")
for s, y, k in zip(o_changes, [141, 158, 198], ["pal", "fan", "chr"]):
    ftext(979, y, s, fontfamily=SANS, fontsize=10.5, color=label_cols[k], va="center")
ftext(998, 395, "(ºC)", fontfamily=SANS, fontsize=9.5, color="#333366", ha="center", va="center")
for s, y, k in zip(sst_changes, [415, 433, 451], ["pal", "fan", "chr"]):
    ftext(978, y, s, fontfamily=SANS, fontsize=10.5, color=label_cols[k], va="center")
ftext(998, 640, "(‰)", fontfamily=SANS, fontsize=9.5, color="#333366", ha="center", va="center")
for s, y, k in zip(sw_changes, [660, 681, 723], ["pal", "fan", "chr"]):
    ftext(979, y, s, fontfamily=SANS, fontsize=10.5, color=label_cols[k], va="center")

# side annotations
red, blue = "#ff2020", "#2a2aff"
ftext(1051, 63, "Warm", fontfamily=SANS, fontsize=12.5, color=red, ha="center", va="center")
ftext(1050, 86, "&/ Wet", fontfamily=SANS, fontsize=12.5, color=red, ha="center", va="center")
farrow(1049, 106, 216)
ftext(1050, 241, "Cold", fontfamily=SANS, fontsize=12.5, color=blue, ha="center", va="center")
ftext(1051, 263, "&/ Dry", fontfamily=SANS, fontsize=12.5, color=blue, ha="center", va="center")
ftext(1053, 605, "Fresher", fontfamily=SANS, fontsize=12.5, color=red, ha="center", va="center")
farrow(1048, 628, 738)
ftext(1050, 755, "More", fontfamily=SANS, fontsize=12.5, color=blue, ha="center", va="center")
ftext(1050, 777, "Saline", fontfamily=SANS, fontsize=12.5, color=blue, ha="center", va="center")
ftext(298, 828, "El Niño", fontfamily=SANS, fontsize=12.5, color=red, ha="center", va="center")
farrow(300, 846, 906)
ftext(301, 930, "La Niña", fontfamily=SANS, fontsize=12.5, color=blue, ha="center", va="center")

# outer border and caption box
fline([10.5, 10.5], [0, H], color="black", lw=1.5)
fline([1283.5, 1283.5], [1026, H], color="black", lw=1.5)
fline([10, W], [1026, 1026], color="black", lw=1.5)

caption = [
    "Coral climate proxy records from the central tropical Pacific extending back to ~1970AD. These",
    r"records are comprised of coral δ$^{\mathit{18}}$O values (top; proxy for temperature and precipitation), coral",
    r"Sr/Ca-derived sea-surface temperature (middle), and seawater δ$^{\mathit{18}}$O$_{\mathit{sw}}$ values (bottom;",
    "precipitation proxy) from Palmyra, Fanning and Christmas Islands located in the central tropical",
    r"Pacific. Taken together, the records document a late 20$^{\mathit{th}}$ century trend towards “El Niño-like”",
    "conditions in the tropical Pacific that we believe is caused by anthropogenic greenhouse gases.",
    "This trend that has important consequences for regional precipitation patterns across the tropics",
    "and in the United States.",
]
caption_base = [1054, 1088, 1124, 1159, 1193, 1227, 1261, 1294]
for s, y in zip(caption, caption_base):
    ftext(25, y, s, fontfamily=SANS, fontstyle="italic", fontsize=21, va="baseline")

fig.savefig("out.png", dpi=100)
